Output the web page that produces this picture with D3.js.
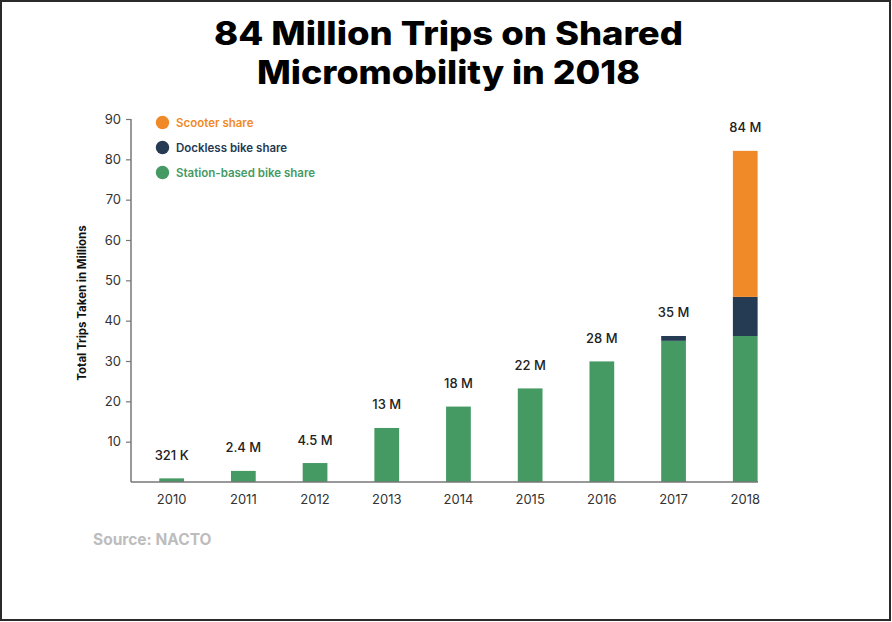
<!DOCTYPE html>
<html>
<head>
<meta charset="utf-8">
<script src="https://cdn.jsdelivr.net/npm/d3@7"></script>
<style>
  html, body { margin: 0; padding: 0; background: #fff; }
  svg { display: block; }
</style>
</head>
<body>
<svg id="chart" width="892" height="622"></svg>
<script>
const years = ["2010","2011","2012","2013","2014","2015","2016","2017","2018"];
const stationBased = [0.9, 2.75, 4.7, 13.4, 18.7, 23.2, 29.9, 35.0, 36.2];
const dockless     = [0, 0, 0, 0, 0, 0, 0, 1.2, 9.7];
const scooter      = [0, 0, 0, 0, 0, 0, 0, 0, 36.2];
const totalLabels  = ["321 K","2.4 M","4.5 M","13 M","18 M","22 M","28 M","35 M","84 M"];
const yTicks = [10, 20, 30, 40, 50, 60, 70, 80, 90];
const seriesKeys = ["station", "dockless", "scooter"];
const legendNames = ["Scooter share", "Dockless bike share", "Station-based bike share"];
const legendKeys = ["scooter", "dockless", "station"];
const colors = { station: "#459a64", dockless: "#253a53", scooter: "#f08a28" };

const svg = d3.select("#chart");
const font = "Inter, 'Open Sans', 'DejaVu Sans', sans-serif";

// border
svg.append("rect").attr("x", 1).attr("y", 1).attr("width", 889).attr("height", 619)
  .attr("fill", "none").attr("stroke", "#2a2a2a").attr("stroke-width", 2);

// title
svg.append("text").attr("x", 448.5).attr("y", 45).attr("text-anchor", "middle")
  .attr("font-family", font).attr("font-weight", 800).attr("font-size", 32).attr("fill", "#000")
  .attr("textLength", 469).attr("lengthAdjust", "spacingAndGlyphs")
  .text("84 Million Trips on Shared");
svg.append("text").attr("x", 448.5).attr("y", 84).attr("text-anchor", "middle")
  .attr("font-family", font).attr("font-weight", 800).attr("font-size", 32).attr("fill", "#000")
  .attr("textLength", 383).attr("lengthAdjust", "spacingAndGlyphs")
  .text("Micromobility in 2018");

const table = years.map((yr, i) => ({ year: yr, station: stationBased[i], dockless: dockless[i], scooter: scooter[i], label: totalLabels[i] }));
const stacked = d3.stack().keys(seriesKeys)(table);

const x = d3.scaleBand().domain(years).range([135.8, 781.1]).paddingInner(0.655).paddingOuter(0.3275);
const y = d3.scaleLinear().domain([0, 90]).range([482, 119]);

// bars
svg.append("g").selectAll("g").data(stacked).join("g")
  .attr("fill", d => colors[d.key])
  .selectAll("rect").data(d => d.filter(p => p[1] - p[0] > 0)).join("rect")
  .attr("x", d => x(d.data.year))
  .attr("width", x.bandwidth())
  .attr("y", d => y(d[1]))
  .attr("height", d => y(d[0]) - y(d[1]));

// y axis
const yAxis = svg.append("g").attr("transform", "translate(131,0)")
  .call(d3.axisLeft(y).tickValues(yTicks).tickSize(5).tickPadding(5).tickFormat(d3.format("d")));
yAxis.select(".domain").attr("stroke", "#777").attr("stroke-width", 1.5).attr("d", `M-0,${y(90)}V${y(0)}`);
yAxis.selectAll(".tick line").attr("stroke", "#777").attr("stroke-width", 1.2);
yAxis.selectAll(".tick text").attr("font-family", font).attr("font-size", 13).attr("fill", "#333");

// x baseline and labels
svg.append("line").attr("x1", 131).attr("x2", 758).attr("y1", y(0)).attr("y2", y(0))
  .attr("stroke", "#777").attr("stroke-width", 1.5);
svg.append("g").selectAll("text").data(years).join("text")
  .attr("x", d => x(d) + x.bandwidth() / 2).attr("y", 504)
  .attr("text-anchor", "middle").attr("font-family", font).attr("font-size", 13).attr("fill", "#333")
  .text(d => d);

// value labels
svg.append("g").selectAll("text").data(table).join("text")
  .attr("x", d => x(d.year) + x.bandwidth() / 2)
  .attr("y", d => y(d.station + d.dockless + d.scooter) - 18.5)
  .attr("text-anchor", "middle").attr("font-family", font).attr("font-size", 13).attr("font-weight", 500)
  .attr("fill", "#222").text(d => d.label);

// y axis title
svg.append("text").attr("transform", "translate(86,303) rotate(-90)")
  .attr("text-anchor", "middle").attr("font-family", font).attr("font-weight", 700).attr("font-size", 11.5)
  .attr("fill", "#111").text("Total Trips Taken in Millions");

// legend
const lg = svg.append("g").selectAll("g").data(legendKeys).join("g")
  .attr("transform", (d, i) => `translate(162.5,${122.5 + i * 25})`);
lg.append("circle").attr("r", 6.7).attr("fill", d => colors[d]);
lg.append("text").attr("x", 13.5).attr("y", 4).attr("font-family", font).attr("font-weight", 600)
  .attr("font-size", 11.5).attr("fill", d => colors[d]).text((d, i) => legendNames[i]);

// source
svg.append("text").attr("x", 93).attr("y", 545).attr("font-family", font).attr("font-weight", 700)
  .attr("font-size", 15.5).attr("fill", "#bdbdbd").text("Source: NACTO");
</script>
</body>
</html>
